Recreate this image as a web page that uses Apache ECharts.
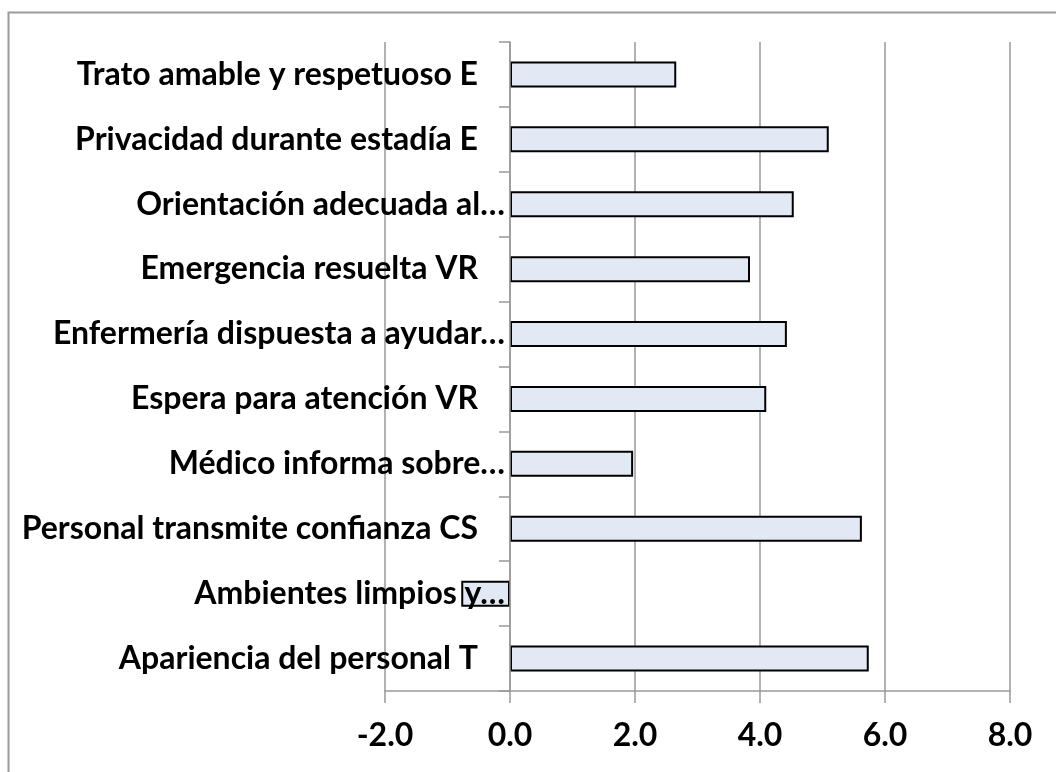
<!DOCTYPE html>
<html>
<head>
<meta charset="utf-8">
<script src="https://cdn.jsdelivr.net/npm/echarts@6/dist/echarts.min.js"></script>
<style>
html,body{margin:0;padding:0;background:#fff;}
#chart{width:1056px;height:772px;}
</style>
</head>
<body>
<div id="chart"></div>
<script>
// Categories listed top to bottom as they appear
const categories = [
  "Trato amable y respetuoso E",
  "Privacidad durante estadía E",
  "Orientación adecuada al…",
  "Emergencia resuelta VR",
  "Enfermería dispuesta a ayudar…",
  "Espera para atención VR",
  "Médico informa sobre…",
  "Personal transmite confianza CS",
  "Ambientes limpios y…",
  "Apariencia del personal T"
];
const values = [2.66, 5.10, 4.54, 3.84, 4.43, 4.10, 1.97, 5.63, -0.78, 5.74];
const xTicks = { min: -2, max: 8, interval: 2 };

const chart = echarts.init(document.getElementById('chart'));
const FONT = 'Lato';
chart.setOption({
  animation: false,
  backgroundColor: '#ffffff',
  graphic: [{
    type: 'rect',
    shape: { x: 8.5, y: 12.5, width: 1200, height: 900 },
    style: { fill: 'none', stroke: '#9a9a9a', lineWidth: 2 },
    silent: true, z: -10
  }],
  grid: { left: 385, right: 46, top: 42, bottom: 81, containLabel: false, outerBoundsMode: 'none' },
  xAxis: {
    type: 'value',
    min: xTicks.min, max: xTicks.max, interval: xTicks.interval,
    axisLine: { show: true, onZero: false, lineStyle: { color: '#999999', width: 1.5 } },
    axisTick: { show: true, length: 12, lineStyle: { color: '#999999', width: 1.5 } },
    splitLine: { show: true, lineStyle: { color: '#999999', width: 1.5 } },
    axisLabel: {
      formatter: v => v.toFixed(1),
      color: '#000', fontFamily: FONT, fontWeight: 'bold', fontSize: 32, margin: 29
    }
  },
  yAxis: {
    type: 'category',
    data: categories,
    inverse: true,
    z: 5,
    axisLine: { show: true, onZero: true, lineStyle: { color: '#999999', width: 1.5 } },
    axisTick: { show: true, length: 11, lineStyle: { color: '#999999', width: 1.5 } },
    axisLabel: {
      margin: -120,
      hideOverlap: false,
      formatter: v => v.endsWith('…') ? '{e|' + v + '}' : '{n|' + v + '}',
      rich: {
        e: { color: '#000', fontFamily: FONT, fontWeight: 'bold', fontSize: 32 },
        n: { color: '#000', fontFamily: FONT, fontWeight: 'bold', fontSize: 32, padding: [0, 27, 0, 0] }
      }
    }
  },
  series: [{
    type: 'bar',
    data: values,
    barWidth: '40%',
    itemStyle: { color: '#E2E9F4', borderColor: '#000000', borderWidth: 2 }
  }]
});
</script>
</body>
</html>
